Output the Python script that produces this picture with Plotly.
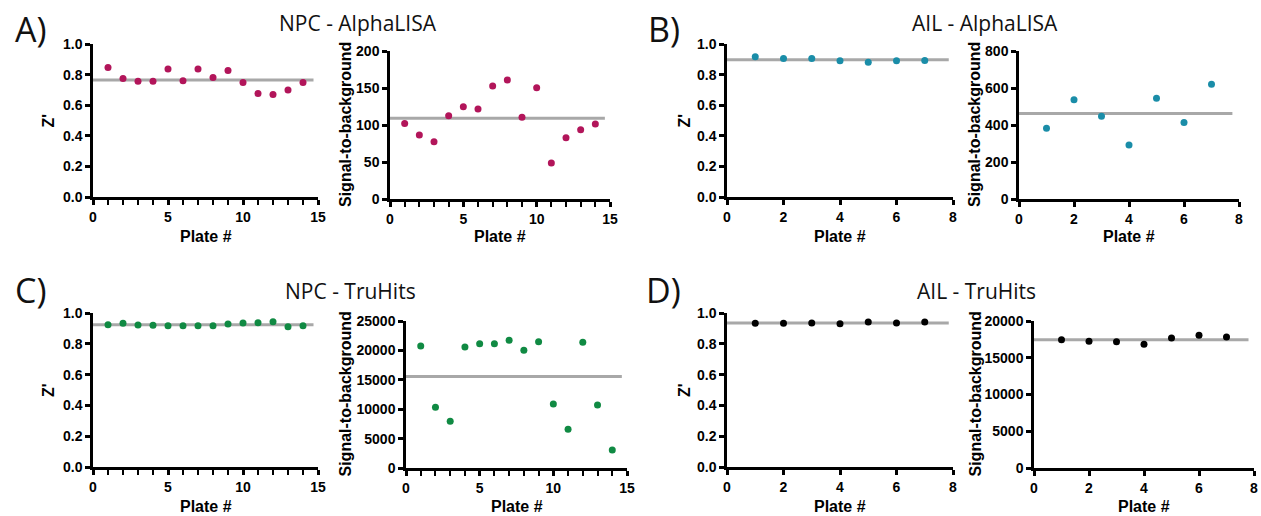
import numpy as np
import plotly.graph_objects as go

W, H = 1261, 516

# ---------------- data ----------------
plates_npc = list(range(1, 15))
plates_ail = list(range(1, 8))

npc_alpha_z = [0.847, 0.775, 0.757, 0.757, 0.836, 0.759, 0.836, 0.781, 0.827, 0.748, 0.676, 0.670, 0.700, 0.748]
npc_alpha_sb = [102, 86.5, 77.5, 112.6, 124.8, 121.6, 152.7, 160.8, 110.4, 150.5, 48.6, 82.9, 93.7, 101.4]

ail_alpha_z = [0.917, 0.905, 0.905, 0.890, 0.880, 0.890, 0.892]
ail_alpha_sb = [382, 537, 447, 292, 544, 413, 620]

npc_tru_z = [0.924, 0.933, 0.922, 0.920, 0.917, 0.917, 0.917, 0.917, 0.928, 0.935, 0.937, 0.943, 0.911, 0.917]
npc_tru_sb = [20750, 10320, 7940, 20580, 21150, 21150, 21710, 20010, 21490, 10880, 6580, 21370, 10710, 3060]

ail_tru_z = [0.933, 0.933, 0.935, 0.930, 0.941, 0.935, 0.941]
ail_tru_sb = [17450, 17230, 17180, 16820, 17680, 18050, 17820]

panel_titles = ["NPC - AlphaLISA", "AIL - AlphaLISA", "NPC - TruHits", "AIL - TruHits"]
panel_letters = ["A)", "B)", "C)", "D)"]

# ---------------- styling ----------------
C_NPC_A = "#B2155A"
C_AIL_A = "#1A8DA8"
C_NPC_T = "#108A43"
C_AIL_T = "#000000"
GREY = "#A8A8A8"
TICKFONT = dict(family="Liberation Sans, Arial, sans-serif", size=14, color="black", weight="bold")
TITLEFONT = dict(family="Liberation Sans, Arial, sans-serif", size=16, color="black")
HEADFONT = dict(family="Open Sans, sans-serif", size=21, color="#111111")
LETTERFONT = dict(family="Open Sans, sans-serif", size=34, color="#111111")

panels = [
    dict(xp=(93, 318), yp=(44, 197), xmax=15, xd=5, minor=True, ymax=1.0, yd=0.2, fmt=".1f",
         x=plates_npc, y=npc_alpha_z, c=C_NPC_A, yt="Z'", ytx=48, lend=14.7),
    dict(xp=(390, 610), yp=(51, 199), xmax=15, xd=5, minor=True, ymax=200, yd=50, fmt="d",
         x=plates_npc, y=npc_alpha_sb, c=C_NPC_A, yt="Signal-to-background", ytx=345, lend=14.65),
    dict(xp=(727, 953), yp=(44, 197), xmax=8, xd=2, minor=False, ymax=1.0, yd=0.2, fmt=".1f",
         x=plates_ail, y=ail_alpha_z, c=C_AIL_A, yt="Z'", ytx=684, lend=7.85),
    dict(xp=(1019, 1239), yp=(51, 199), xmax=8, xd=2, minor=False, ymax=800, yd=200, fmt="d",
         x=plates_ail, y=ail_alpha_sb, c=C_AIL_A, yt="Signal-to-background", ytx=974, lend=7.76),
    dict(xp=(93, 318), yp=(313, 467), xmax=15, xd=5, minor=True, ymax=1.0, yd=0.2, fmt=".1f",
         x=plates_npc, y=npc_tru_z, c=C_NPC_T, yt="Z'", ytx=48, lend=14.7),
    dict(xp=(406, 627), yp=(321, 468), xmax=15, xd=5, minor=True, ymax=25000, yd=5000, fmt="d",
         x=plates_npc, y=npc_tru_sb, c=C_NPC_T, yt="Signal-to-background", ytx=345, lend=14.65),
    dict(xp=(727, 953), yp=(313, 467), xmax=8, xd=2, minor=False, ymax=1.0, yd=0.2, fmt=".1f",
         x=plates_ail, y=ail_tru_z, c=C_AIL_T, yt="Z'", ytx=684, lend=7.85),
    dict(xp=(1034, 1254), yp=(321, 468), xmax=8, xd=2, minor=False, ymax=20000, yd=5000, fmt="d",
         x=plates_ail, y=ail_tru_sb, c=C_AIL_T, yt="Signal-to-background", ytx=975, lend=7.8),
]

fig = go.Figure()
layout = dict(width=W, height=H, margin=dict(l=0, r=0, t=0, b=0, autoexpand=False),
              paper_bgcolor="white", plot_bgcolor="white", showlegend=False)
annotations = []

for i, p in enumerate(panels, start=1):
    xa = "x" if i == 1 else f"x{i}"
    ya = "y" if i == 1 else f"y{i}"
    mean = float(np.mean(p["y"]))
    fig.add_trace(go.Scatter(x=[0, p["lend"]], y=[mean, mean], mode="lines",
                             line=dict(color=GREY, width=3), xaxis=xa, yaxis=ya,
                             hoverinfo="skip"))
    fig.add_trace(go.Scatter(x=p["x"], y=p["y"], mode="markers",
                             marker=dict(color=p["c"], size=7), xaxis=xa, yaxis=ya,
                             cliponaxis=False))
    xdom = [p["xp"][0] / W, p["xp"][1] / W]
    ydom = [1 - p["yp"][1] / H, 1 - p["yp"][0] / H]
    xaxis = dict(domain=xdom, anchor=ya, range=[0, p["xmax"]], dtick=p["xd"], tick0=0,
                 showgrid=False, zeroline=False, showline=True, linecolor="black",
                 linewidth=2.5, ticks="outside", ticklen=5, tickwidth=2.5,
                 tickcolor="black", tickfont=TICKFONT, fixedrange=True, automargin=False)
    if p["minor"]:
        xaxis["minor"] = dict(dtick=1, ticks="outside", ticklen=5, tickwidth=2,
                              tickcolor="black", showgrid=False)
    yaxis = dict(domain=ydom, anchor=xa, range=[0, p["ymax"]], dtick=p["yd"], tick0=0,
                 tickformat=p["fmt"], showgrid=False, zeroline=False, showline=True,
                 linecolor="black", linewidth=2.5, ticks="outside", ticklen=5,
                 tickwidth=2.5, tickcolor="black", tickfont=TICKFONT, fixedrange=True,
                 automargin=False)
    layout["xaxis" if i == 1 else f"xaxis{i}"] = xaxis
    layout["yaxis" if i == 1 else f"yaxis{i}"] = yaxis

    xc = (p["xp"][0] + p["xp"][1]) / 2
    xt_y = 237 if p["yp"][1] < 250 else 506
    annotations.append(dict(text="<b>Plate #</b>", x=xc / W, y=1 - xt_y / H, xref="paper",
                            yref="paper", xanchor="center", yanchor="middle",
                            showarrow=False, font=TITLEFONT))
    yc = (p["yp"][0] + p["yp"][1]) / 2
    annotations.append(dict(text="<b>" + p["yt"] + "</b>", x=p["ytx"] / W, y=1 - yc / H,
                            xref="paper", yref="paper", xanchor="center", yanchor="middle",
                            textangle=-90, showarrow=False, font=TITLEFONT))

head_pos = [(358, 23), (985, 23), (350, 291), (976, 291)]
letter_pos = [(31, 29), (664, 29), (30, 290), (663, 290)]
for t, (hx, hy) in zip(panel_titles, head_pos):
    annotations.append(dict(text=t, x=hx / W, y=1 - hy / H, xref="paper", yref="paper",
                            xanchor="center", yanchor="middle", showarrow=False, font=HEADFONT))
for t, (lx, ly) in zip(panel_letters, letter_pos):
    annotations.append(dict(text=t, x=lx / W, y=1 - ly / H, xref="paper", yref="paper",
                            xanchor="center", yanchor="middle", showarrow=False, font=LETTERFONT))

layout["annotations"] = annotations
fig.update_layout(**layout)
fig.write_html("out.html", config={"displayModeBar": False},
               post_script="document.body.style.margin='0';document.body.style.overflow='hidden';")
